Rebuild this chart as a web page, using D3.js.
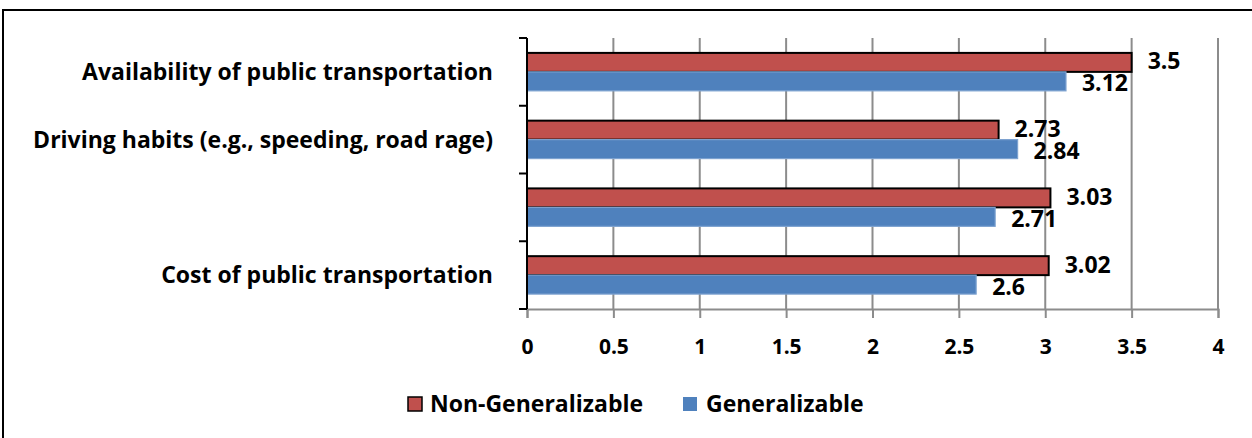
<!DOCTYPE html>
<html><head><meta charset="utf-8">
<script src="https://cdn.jsdelivr.net/npm/d3@7"></script>
<style>
html,body{margin:0;padding:0;background:#fff;}
svg{display:block;}
text{font-family:"Open Sans",sans-serif;font-weight:700;fill:#000;}
</style></head>
<body>
<svg id="chart" width="1252" height="438"></svg>
<script>
const categories = ["Availability of public transportation","Driving habits (e.g., speeding, road rage)","","Cost of public transportation"];
const seriesNames = ["Non-Generalizable","Generalizable"];
const nonGeneralizable = [3.5, 2.73, 3.03, 3.02];
const generalizable = [3.12, 2.84, 2.71, 2.6];
const xTicks = [0,0.5,1,1.5,2,2.5,3,3.5,4];
const colors = ["#C0504D","#4F81BD"];

(function(){
const FONT = '"Open Sans",sans-serif';
const svg = d3.select("#chart");
svg.append("rect").attr("x",3).attr("y",10).attr("width",1260).attr("height",440)
  .attr("fill","none").attr("stroke","#000").attr("stroke-width",2);

const pL=527, pR=1218, pT=38, pB=309;
const x = d3.scaleLinear().domain([0,4]).range([pL,pR]);
const y = d3.scaleBand().domain(categories.map((c,i)=>i)).range([pT,pB]).paddingInner(0.44).paddingOuter(0.22);
const ys = d3.scaleBand().domain([0,1]).range([0,y.bandwidth()]);

svg.append("g").selectAll("line").data(xTicks.slice(1)).join("line")
  .attr("x1",d=>x(d)).attr("x2",d=>x(d)).attr("y1",pT).attr("y2",pB)
  .attr("stroke","#8c8c8c").attr("stroke-width",2);

const xAxis = d3.axisBottom(x).tickValues(xTicks).tickSize(9).tickPadding(21).tickFormat(d=>String(d));
const gx = svg.append("g").attr("transform",`translate(0,${pB})`).call(xAxis);
gx.select(".domain").attr("stroke","#8c8c8c").attr("stroke-width",2);
gx.selectAll(".tick line").attr("stroke","#8c8c8c").attr("stroke-width",2);
gx.selectAll(".tick text").attr("font-size",21).attr("font-family",FONT).attr("font-weight",700).attr("fill","#000");

const rows = categories.map((c,i)=>({i, vals:[nonGeneralizable[i], generalizable[i]]}));
const g = svg.append("g");
rows.forEach(r=>{
  r.vals.forEach((v,s)=>{
    g.append("rect").attr("x",x(0)).attr("y",y(r.i)+ys(s)).attr("width",x(v)-x(0)).attr("height",ys.bandwidth())
      .attr("fill",colors[s]).attr("stroke",s===0?"#000":"#7da2d0").attr("stroke-width",s===0?2:1.2);
  });
});
rows.forEach(r=>{
  r.vals.forEach((v,s)=>{
    g.append("text").attr("x",x(v)+16).attr("y",y(r.i)+ys(s)+ys.bandwidth()/2 + (s===0?-1:2))
      .attr("dy","0.35em").attr("font-size",23).text(String(v));
  });
});

const yBound = d3.scaleLinear().domain([0,4]).range([pT,pB]);
const gy = svg.append("g");
gy.append("line").attr("x1",pL).attr("x2",pL).attr("y1",pT).attr("y2",pB).attr("stroke","#000").attr("stroke-width",2);
gy.selectAll("line.t").data([0,1,2,3,4]).join("line").attr("class","t")
  .attr("x1",pL-8).attr("x2",pL).attr("y1",d=>yBound(d)).attr("y2",d=>yBound(d)).attr("stroke","#000").attr("stroke-width",2);
gy.selectAll("text").data(categories).join("text")
  .attr("x",493).attr("y",(d,i)=>y(i)+y.bandwidth()/2).attr("dy","0.36em")
  .attr("text-anchor","end").attr("font-size",23).text(d=>d);

const lg = svg.append("g");
const legendItems = [{name:seriesNames[0],c:colors[0],sx:408,tx:430},{name:seriesNames[1],c:colors[1],sx:683,tx:706}];
legendItems.forEach((d,i)=>{
  lg.append("rect").attr("x",d.sx).attr("y",397).attr("width",14).attr("height",14)
    .attr("fill",d.c).attr("stroke",i===0?"#000":"none").attr("stroke-width",1.5);
  lg.append("text").attr("x",d.tx).attr("y",404).attr("dy","0.36em").attr("font-size",23).text(d.name);
});
})();
</script>
</body></html>
